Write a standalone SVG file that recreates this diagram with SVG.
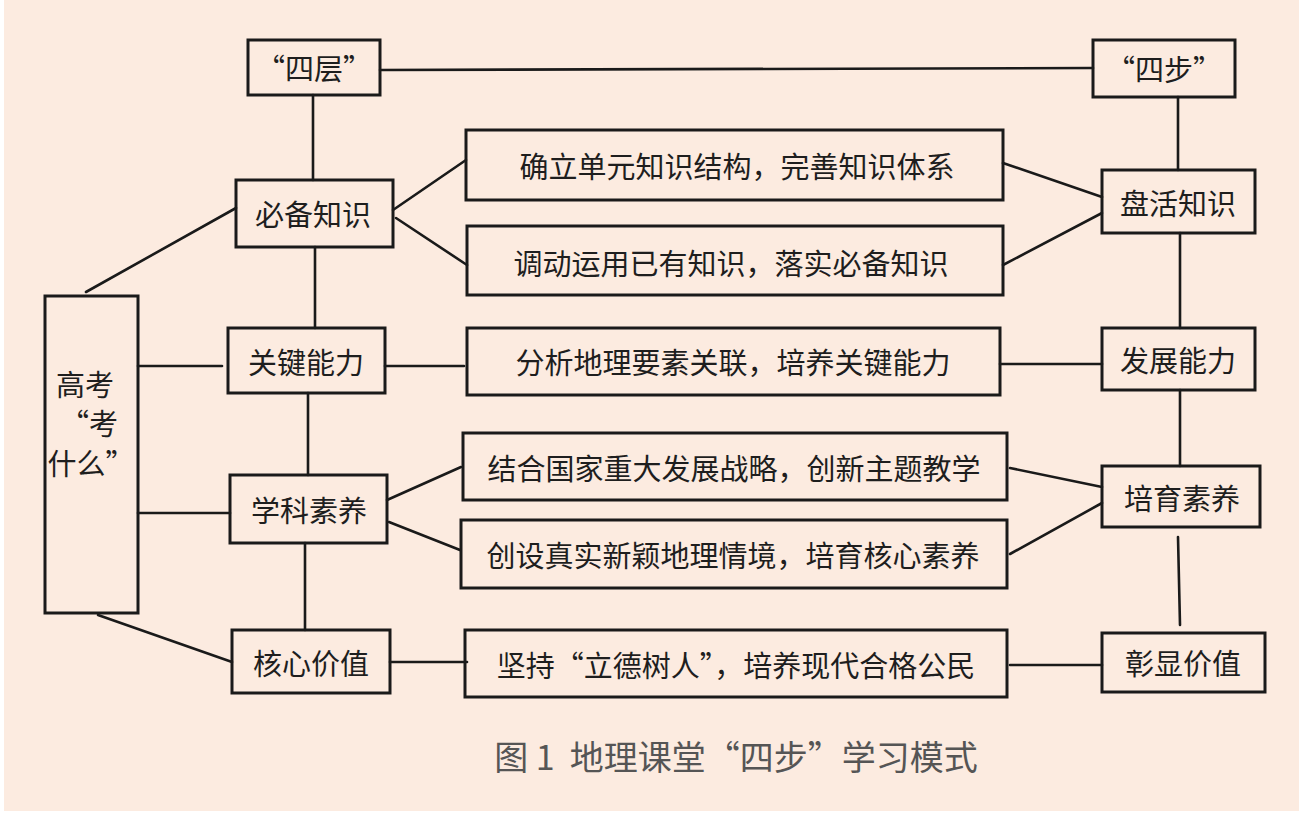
<svg xmlns="http://www.w3.org/2000/svg" width="1299" height="825" viewBox="0 0 1299 825">
<style>
.box{fill:none;stroke:#1a1a1a;stroke-width:3}
.c line{stroke:#1a1a1a;stroke-width:2.6;stroke-linecap:round}
.t{font-family:"Noto Sans CJK SC","Liberation Sans",sans-serif;font-size:29px;fill:#1e1e1e;text-anchor:middle;dominant-baseline:central}
.cap{font-family:"Noto Sans CJK SC","Liberation Sans",sans-serif;font-size:34px;fill:#555555;text-anchor:middle;dominant-baseline:central}
</style>
<rect x="0" y="0" width="1299" height="825" fill="#ffffff"/>
<rect x="4" y="0" width="1295" height="811" fill="#fcebe0"/>
<g class="c" id="connectors">
<line x1="380" y1="70" x2="1093" y2="68"/>
<line x1="313" y1="95" x2="313" y2="180"/>
<line x1="1178" y1="97" x2="1178" y2="170"/>
<line x1="393" y1="210" x2="466" y2="160"/>
<line x1="396" y1="218" x2="467" y2="265"/>
<line x1="1003" y1="163" x2="1102" y2="197"/>
<line x1="1003" y1="265" x2="1102" y2="213"/>
<line x1="1180" y1="233" x2="1180" y2="328"/>
<line x1="86" y1="292" x2="236" y2="208"/>
<line x1="315" y1="247" x2="315" y2="328"/>
<line x1="138" y1="366" x2="222" y2="366"/>
<line x1="385" y1="366" x2="464" y2="366"/>
<line x1="1000" y1="364" x2="1102" y2="364"/>
<line x1="308" y1="393" x2="308" y2="475"/>
<line x1="1180" y1="390" x2="1180" y2="466"/>
<line x1="138" y1="513" x2="230" y2="513"/>
<line x1="387" y1="500" x2="461" y2="467"/>
<line x1="389" y1="522" x2="460" y2="550"/>
<line x1="1010" y1="468" x2="1102" y2="487"/>
<line x1="1010" y1="554" x2="1102" y2="503"/>
<line x1="1178" y1="537" x2="1180" y2="625"/>
<line x1="305" y1="543" x2="305" y2="630"/>
<line x1="98" y1="615" x2="232" y2="662"/>
<line x1="390" y1="662" x2="467" y2="662"/>
<line x1="1010" y1="665" x2="1102" y2="665"/>
</g>
<g id="n-sceng"><rect class="box" x="248" y="40" width="132" height="55"/><text class="t" x="314" y="67">“四层”</text></g>
<g id="n-sbu"><rect class="box" x="1093" y="40" width="142" height="57"/><text class="t" x="1164" y="68">“四步”</text></g>
<g id="n-bbzs"><rect class="box" x="236" y="180" width="157" height="67"/><text class="t" x="313" y="213">必备知识</text></g>
<g id="n-qldy"><rect class="box" x="466" y="130" width="537" height="70"/><text class="t" x="737" y="165">确立单元知识结构，完善知识体系</text></g>
<g id="n-ddyy"><rect class="box" x="467" y="226" width="536" height="69"/><text class="t" x="731" y="262">调动运用已有知识，落实必备知识</text></g>
<g id="n-phzs"><rect class="box" x="1102" y="170" width="153" height="63"/><text class="t" x="1178" y="202">盘活知识</text></g>
<g id="n-gk"><rect class="box" x="45" y="296" width="93" height="317"/>
<text class="t" x="85" y="383">高考</text><text class="t" x="89" y="422">“考</text><text class="t" x="91" y="462">什么”</text></g>
<g id="n-gjnl"><rect class="box" x="228" y="328" width="157" height="65"/><text class="t" x="306" y="361">关键能力</text></g>
<g id="n-fxdl"><rect class="box" x="467" y="328" width="533" height="67"/><text class="t" x="733" y="361">分析地理要素关联，培养关键能力</text></g>
<g id="n-fznl"><rect class="box" x="1102" y="328" width="153" height="62"/><text class="t" x="1178" y="359">发展能力</text></g>
<g id="n-xksy"><rect class="box" x="230" y="475" width="157" height="68"/><text class="t" x="309" y="509">学科素养</text></g>
<g id="n-jhgj"><rect class="box" x="463" y="433" width="544" height="67"/><text class="t" x="734" y="467">结合国家重大发展战略，创新主题教学</text></g>
<g id="n-csz"><rect class="box" x="461" y="520" width="546" height="68"/><text class="t" x="733" y="554">创设真实新颖地理情境，培育核心素养</text></g>
<g id="n-pysy"><rect class="box" x="1102" y="466" width="158" height="61"/><text class="t" x="1182" y="497">培育素养</text></g>
<g id="n-hxjz"><rect class="box" x="232" y="630" width="158" height="63"/><text class="t" x="311" y="662">核心价值</text></g>
<g id="n-jc"><rect class="box" x="465" y="630" width="542" height="67"/><text class="t" x="736" y="664">坚持“立德树人”，培养现代合格公民</text></g>
<g id="n-zxjz"><rect class="box" x="1102" y="633" width="163" height="59"/><text class="t" x="1183" y="662">彰显价值</text></g>
<text class="cap" x="736" y="755" xml:space="preserve">图 1  地理课堂“四步”学习模式</text>
</svg>
